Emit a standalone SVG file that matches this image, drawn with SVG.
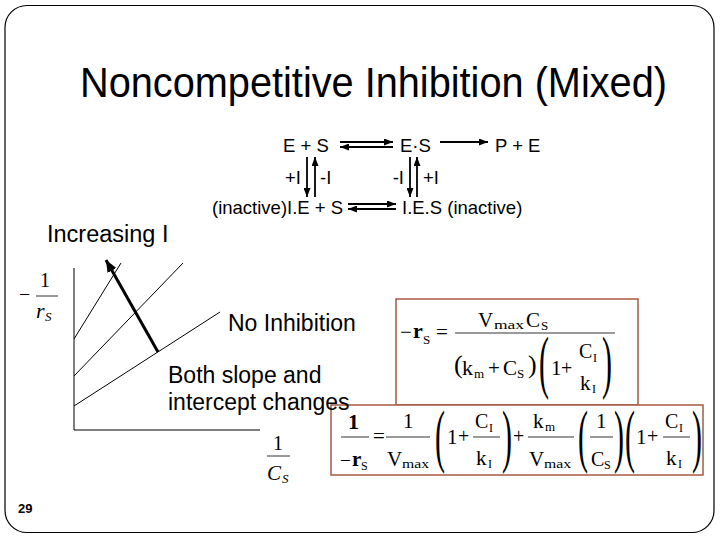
<svg xmlns="http://www.w3.org/2000/svg" width="720" height="540" viewBox="0 0 720 540">
<defs>
<style>
.sans{font-family:"Liberation Sans",Arial,sans-serif;fill:#000}
.serif{font-family:"Liberation Serif","Times New Roman",serif;fill:#000}
.thin{stroke:#000;stroke-width:1;fill:none}
.rx{stroke:#000;stroke-width:1.8;fill:none}
.box{fill:#fff;stroke:#A65A3F;stroke-width:1.5}
.bar{stroke:#000;stroke-width:0.8}
</style>
<marker id="ah" viewBox="0 0 9 7" refX="9" refY="3.5" markerWidth="9" markerHeight="7" markerUnits="userSpaceOnUse" orient="auto"><path d="M0,0 L9,3.5 L0,7 z" fill="#000"/></marker>
<marker id="ahBig" viewBox="0 0 12 10" refX="12" refY="5" markerWidth="12" markerHeight="10" markerUnits="userSpaceOnUse" orient="auto"><path d="M0,0 L12,5 L0,10 z" fill="#000"/></marker>
</defs>
<rect width="720" height="540" fill="#fff"/>
<rect id="frame" x="5" y="5.5" width="709" height="527" rx="22" fill="none" stroke="#000" stroke-width="1.2"/>

<g id="title"><text class="sans" x="80" y="97" font-size="43" textLength="587" lengthAdjust="spacingAndGlyphs">Noncompetitive Inhibition (Mixed)</text></g>

<g id="node-ES"><text class="sans" x="283" y="152" font-size="18.5">E + S</text></g>
<g id="node-EdotS"><text class="sans" x="400" y="152" font-size="18.5">E·S</text></g>
<g id="node-PE"><text class="sans" x="495" y="152" font-size="18.5">P + E</text></g>
<g id="node-IES1"><text class="sans" x="212" y="214" font-size="18.5">(inactive)I.E + S</text></g>
<g id="node-IES2"><text class="sans" x="402" y="214" font-size="18.5">I.E.S (inactive)</text></g>
<g id="labels-scheme" class="sans" font-size="18.5">
<text x="301" y="184" text-anchor="end">+I</text>
<text x="320" y="184">-I</text>
<text x="404" y="184" text-anchor="end">-I</text>
<text x="423" y="184">+I</text>
</g>

<g id="connectors">
<line class="rx" x1="340" y1="142" x2="393" y2="142" marker-end="url(#ah)"/>
<line class="rx" x1="393" y1="147" x2="340" y2="147" marker-end="url(#ah)"/>
<line class="rx" x1="440" y1="142" x2="488" y2="142" marker-end="url(#ah)"/>
<line class="rx" x1="307" y1="157" x2="307" y2="197" marker-end="url(#ah)"/>
<line class="rx" x1="315" y1="197" x2="315" y2="157" marker-end="url(#ah)"/>
<line class="rx" x1="410" y1="157" x2="410" y2="197" marker-end="url(#ah)"/>
<line class="rx" x1="417" y1="197" x2="417" y2="157" marker-end="url(#ah)"/>
<line class="rx" x1="348" y1="204" x2="396" y2="204" marker-end="url(#ah)"/>
<line class="rx" x1="396" y1="209" x2="348" y2="209" marker-end="url(#ah)"/>
</g>

<g id="increasing"><text class="sans" x="47" y="242" font-size="23.5">Increasing I</text></g>

<g id="graph">
<path class="thin" stroke-width="1.5" d="M74,268 V430 H260"/>
<line class="thin" x1="74" y1="339" x2="121" y2="263"/>
<line class="thin" x1="74" y1="376" x2="183" y2="263"/>
<line class="thin" x1="74" y1="406" x2="220" y2="312"/>
<line x1="158" y1="352" x2="106" y2="260" stroke="#000" stroke-width="3" marker-end="url(#ahBig)"/>
<text class="serif" x="19" y="301" font-size="20">−</text>
<text class="serif" x="40" y="287" font-size="20">1</text>
<line class="bar" x1="36" y1="296" x2="58" y2="296"/>
<text class="serif" x="36" y="318" font-size="22" font-style="italic">r</text>
<text class="serif" x="45" y="321" font-size="13" font-style="italic">S</text>
<text class="serif" x="273" y="450" font-size="20">1</text>
<line class="bar" x1="267" y1="456" x2="290" y2="456"/>
<text class="serif" x="267" y="480" font-size="21" font-style="italic">C</text>
<text class="serif" x="282" y="483" font-size="13" font-style="italic">S</text>
</g>

<g id="graph-labels" class="sans" font-size="23">
<text x="228" y="331">No Inhibition</text>
<text x="168" y="383">Both slope and</text>
</g>

<g id="formula1" class="serif">
<rect class="box" x="396" y="299" width="242" height="106"/>
<text x="400" y="339" font-size="21">−</text>
<text x="413" y="338" font-size="22" font-weight="bold">r</text>
<text x="423" y="344" font-size="13">S</text>
<text x="436" y="339" font-size="21">=</text>
<line class="bar" x1="455" y1="333" x2="615" y2="333"/>
<text x="478" y="327" font-size="21">V</text>
<text x="494" y="329" font-size="13" textLength="30" lengthAdjust="spacingAndGlyphs">max</text>
<text x="526" y="327" font-size="21">C</text>
<text x="541" y="330" font-size="13">S</text>
<text x="454" y="373" font-size="26">(</text>
<text x="462" y="375" font-size="22">k</text>
<text x="474" y="378" font-size="13">m</text>
<text x="488" y="375" font-size="21">+</text>
<text x="503" y="375" font-size="21">C</text>
<text x="517" y="378" font-size="13">S</text>
<text x="528" y="373" font-size="26">)</text>
<text transform="matrix(1 0 0 2.3 539 385)" font-size="30">(</text>
<text x="551" y="375" font-size="21">1</text>
<text x="561" y="375" font-size="20">+</text>
<text x="579" y="358" font-size="20">C</text>
<text x="593" y="362" font-size="12">I</text>
<text x="580" y="390" font-size="21">k</text>
<text x="592" y="393" font-size="12">I</text>
<text transform="matrix(1 0 0 2.3 602 385)" font-size="30">)</text>
</g>

<g id="formula2" class="serif">
<rect class="box" x="331" y="405" width="372" height="70"/>
<text x="348" y="429" font-size="22" font-weight="bold">1</text>
<line class="bar" x1="341" y1="437" x2="369" y2="437"/>
<text x="340" y="467" font-size="19">−</text>
<text x="352" y="466" font-size="21" font-weight="bold">r</text>
<text x="361" y="470" font-size="12">S</text>
<text x="373" y="443" font-size="21">=</text>
<text x="403" y="428" font-size="21">1</text>
<line class="bar" x1="386" y1="437" x2="430" y2="437"/>
<text x="387" y="466" font-size="21">V</text>
<text x="402" y="468" font-size="12" textLength="27" lengthAdjust="spacingAndGlyphs">max</text>
<text transform="matrix(1 0 0 2.3 435 459)" font-size="30">(</text>
<text x="447" y="444" font-size="21">1</text>
<text x="458" y="443" font-size="20">+</text>
<text x="475" y="428" font-size="20">C</text>
<text x="489" y="432" font-size="12">I</text>
<line class="bar" x1="473" y1="437" x2="500" y2="437"/>
<text x="476" y="465" font-size="21">k</text>
<text x="488" y="468" font-size="12">I</text>
<text transform="matrix(1 0 0 2.3 502 459)" font-size="30">)</text>
<text x="513" y="443" font-size="20">+</text>
<text x="533" y="428" font-size="21">k</text>
<text x="545" y="431" font-size="13">m</text>
<line class="bar" x1="528" y1="437" x2="574" y2="437"/>
<text x="529" y="466" font-size="21">V</text>
<text x="544" y="468" font-size="12" textLength="27" lengthAdjust="spacingAndGlyphs">max</text>
<text transform="matrix(1 0 0 2.3 578 459)" font-size="30">(</text>
<text x="596" y="428" font-size="21">1</text>
<line class="bar" x1="590" y1="437" x2="613" y2="437"/>
<text x="591" y="466" font-size="20">C</text>
<text x="604" y="469" font-size="12">S</text>
<text transform="matrix(1 0 0 2.3 614 459)" font-size="30">)</text>
<text transform="matrix(1 0 0 2.3 625 459)" font-size="30">(</text>
<text x="636" y="444" font-size="21">1</text>
<text x="647" y="443" font-size="20">+</text>
<text x="665" y="428" font-size="20">C</text>
<text x="679" y="432" font-size="12">I</text>
<line class="bar" x1="663" y1="437" x2="690" y2="437"/>
<text x="666" y="465" font-size="21">k</text>
<text x="678" y="468" font-size="12">I</text>
<text transform="matrix(1 0 0 2.3 692 459)" font-size="30">)</text>
</g>

<g id="graph-label-2" class="sans" font-size="23"><text x="168" y="410">intercept changes</text></g>

<g id="page"><text class="sans" x="18" y="513" font-size="13" font-weight="bold">29</text></g>
</svg>
